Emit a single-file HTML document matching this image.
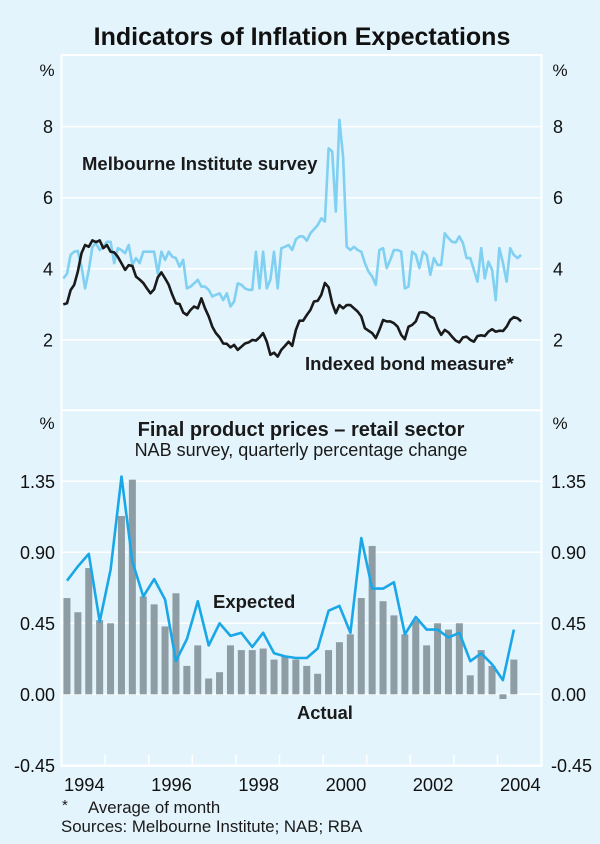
<!DOCTYPE html>
<html><head><meta charset="utf-8"><style>
html,body{margin:0;padding:0;background:#e3f4fc;}
svg{display:block;font-family:"Liberation Sans",Arial,sans-serif;}
</style></head><body>
<svg id="chart" width="600" height="844" viewBox="0 0 600 844" xmlns="http://www.w3.org/2000/svg">
<rect x="0" y="0" width="600" height="844" fill="#e3f4fc"/>
<text x="302" y="45" text-anchor="middle" font-size="25" font-weight="bold" fill="#111">Indicators of Inflation Expectations</text>
<g id="grid"></g>
<g id="marks"></g>
<g id="labels" fill="#111"></g>
<text x="47" y="76" text-anchor="middle" font-size="17" fill="#111">%</text>
<text x="560" y="76" text-anchor="middle" font-size="17" fill="#111">%</text>
<text x="47" y="429" text-anchor="middle" font-size="17" fill="#111">%</text>
<text x="560" y="429" text-anchor="middle" font-size="17" fill="#111">%</text>
<text x="82" y="170" font-size="18.5" font-weight="bold" fill="#1a1a1a">Melbourne Institute survey</text>
<text x="305" y="370" font-size="18.5" font-weight="bold" fill="#1a1a1a">Indexed bond measure*</text>
<text x="301" y="436" text-anchor="middle" font-size="20" font-weight="bold" fill="#1a1a1a">Final product prices – retail sector</text>
<text x="301" y="456" text-anchor="middle" font-size="18" fill="#1a1a1a">NAB survey, quarterly percentage change</text>
<text x="213" y="608" font-size="18.5" font-weight="bold" fill="#1a1a1a">Expected</text>
<text x="297" y="719" font-size="18.3" font-weight="bold" fill="#1a1a1a">Actual</text>
<text x="62" y="810" font-size="15" fill="#1a1a1a">*</text>
<text x="88" y="813" font-size="16.8" fill="#1a1a1a">Average of month</text>
<text x="61" y="832" font-size="16.8" fill="#1a1a1a">Sources: Melbourne Institute; NAB; RBA</text>
</svg>
<script>
const yearLabels = ["1994","1996","1998","2000","2002","2004"];
const topTicks = [2,4,6,8];
const bottomTicks = [-0.45,0,0.45,0.90,1.35];
const bottomTickLabels = ["-0.45","0.00","0.45","0.90","1.35"];
const melbourneSurvey = [3.73,3.86,4.39,4.48,4.5,4.06,3.45,3.97,4.62,4.72,4.53,4.62,4.76,4.76,4.16,4.58,4.53,4.44,4.67,4.11,4.3,4.16,4.48,4.48,4.48,4.48,3.87,4.48,4.25,4.48,4.34,4.3,4.06,4.25,3.45,3.5,3.59,3.69,3.5,3.5,3.41,3.22,3.27,3.31,3.12,3.31,2.94,3.08,3.59,3.55,3.45,3.41,3.41,4.48,3.45,4.48,3.45,3.69,4.48,3.45,4.58,4.62,4.67,4.53,4.83,4.91,4.91,4.79,5.0,5.11,5.23,5.42,5.33,7.39,7.3,5.61,8.19,7.15,4.62,4.53,4.62,4.53,4.48,4.16,3.92,3.78,3.55,4.53,4.58,4.02,4.25,4.53,4.53,4.48,3.45,3.5,4.48,4.39,4.02,4.48,4.39,3.83,4.3,4.11,4.11,5.0,4.86,4.76,4.74,4.91,4.72,4.3,4.3,3.97,3.64,4.58,3.73,4.2,3.97,3.12,4.58,4.16,3.64,4.58,4.39,4.3,4.39];
const indexedBond = [3.0,3.03,3.4,3.55,3.92,4.44,4.67,4.62,4.8,4.75,4.8,4.58,4.67,4.48,4.46,4.34,4.16,3.97,4.1,4.08,3.78,3.7,3.6,3.45,3.31,3.42,3.76,3.9,3.73,3.55,3.27,3.03,3.01,2.77,2.7,2.84,2.94,2.89,3.17,2.89,2.66,2.37,2.19,2.07,1.9,1.89,1.79,1.86,1.72,1.81,1.9,1.93,2.0,1.98,2.07,2.19,1.95,1.58,1.64,1.53,1.72,1.83,1.95,1.83,2.28,2.54,2.54,2.7,2.84,3.08,3.1,3.27,3.6,3.48,3.03,2.75,2.98,2.89,2.98,2.98,2.89,2.8,2.66,2.33,2.26,2.19,2.05,2.28,2.56,2.52,2.52,2.47,2.37,2.14,2.02,2.37,2.42,2.52,2.77,2.78,2.75,2.66,2.61,2.33,2.14,2.28,2.21,2.09,1.98,1.93,2.07,2.09,2.0,1.95,2.11,2.13,2.11,2.23,2.3,2.23,2.26,2.25,2.37,2.56,2.64,2.61,2.52];
const actualRetail = [0.61,0.52,0.80,0.47,0.45,1.13,1.36,0.62,0.57,0.43,0.64,0.18,0.31,0.10,0.14,0.31,0.28,0.28,0.29,0.22,0.24,0.22,0.18,0.13,0.28,0.33,0.38,0.61,0.94,0.59,0.50,0.38,0.47,0.31,0.45,0.41,0.45,0.12,0.28,0.18,-0.03,0.22];
const expectedRetail = [0.72,0.81,0.89,0.46,0.79,1.38,0.84,0.62,0.73,0.60,0.21,0.35,0.59,0.31,0.45,0.37,0.39,0.30,0.39,0.26,0.24,0.23,0.23,0.29,0.53,0.56,0.39,0.99,0.67,0.67,0.71,0.38,0.49,0.41,0.41,0.36,0.39,0.21,0.26,0.19,0.09,0.41];

const NS="http://www.w3.org/2000/svg";
const X0=61.5, YEARW=43.6;
function xMonth(m){return X0+(m+0.5)*YEARW/12;}
function xQuarter(q){return X0+(q+0.5)*YEARW/4;}
function yTop(v){return 411-v*35.55;}
function yBot(v){return 694.3-v*157.8;}
function mk(tag,attrs,parent){const e=document.createElementNS(NS,tag);for(const k in attrs)e.setAttribute(k,attrs[k]);parent.appendChild(e);return e;}
const grid=document.getElementById('grid'), marks=document.getElementById('marks'), labels=document.getElementById('labels');

let f=mk('rect',{x:61.5,y:55,width:480,height:711,fill:'none',stroke:'#fff','stroke-width':2},grid);


let sep=mk('line',{x1:61.5,x2:541.5,y1:yBot(1.8),y2:yBot(1.8),stroke:'#fff','stroke-width':2},grid);



topTicks.forEach(v=>{
  const g=mk('line',{x1:61.5,x2:541.5,y1:yTop(v),y2:yTop(v),stroke:'#fff','stroke-width':1.5},grid);
  
  
  const l=mk('text',{x:48,y:yTop(v)+6.5,'text-anchor':'middle','font-size':18},labels);l.textContent=v;
  
  
  const r=mk('text',{x:558,y:yTop(v)+6.5,'text-anchor':'middle','font-size':18},labels);r.textContent=v;
  
  
});
bottomTicks.forEach((v,i)=>{
  const g=mk('line',{x1:61.5,x2:541.5,y1:yBot(v),y2:yBot(v),stroke:'#fff','stroke-width':1.5},grid);
  
  
  const l=mk('text',{x:55,y:yBot(v)+6.5,'text-anchor':'end','font-size':18},labels);l.textContent=bottomTickLabels[i];
  
  
  const r=mk('text',{x:551,y:yBot(v)+6.5,'font-size':18},labels);r.textContent=bottomTickLabels[i];
  
  
});
for(let y=1;y<11;y++){
  const t=mk('line',{x1:X0+y*YEARW,x2:X0+y*YEARW,y1:755,y2:766,stroke:'#fff','stroke-width':1.5},grid);
  
  
}
yearLabels.forEach(s=>{
  const yr=parseInt(s)-1994;
  const t=mk('text',{x:X0+(yr+0.5)*YEARW+1,y:791,'text-anchor':'middle','font-size':18.3},labels);t.textContent=s;
  
  
});

actualRetail.forEach((v,i)=>{
  const y0=yBot(0), y1=yBot(v);
  const b=mk('rect',{x:xQuarter(i)-3.5,y:Math.min(y0,y1),width:7,height:Math.max(1.5,Math.abs(y1-y0)),fill:'#8e9ca4'},marks);
  
  
});
function line(vals,xf,yf,color,w,name){
  const p=mk('polyline',{points:vals.map((v,i)=>xf(i).toFixed(1)+','+yf(v).toFixed(1)).join(' '),fill:'none',stroke:color,'stroke-width':w,'stroke-linejoin':'round'},marks);
  
  
}
line(expectedRetail,xQuarter,yBot,'#1aa7e8',2.6,'expected-line');
line(melbourneSurvey,xMonth,yTop,'#80d0f2',2.6,'melbourne-survey-line');
line(indexedBond,xMonth,yTop,'#1a1a1a',2.6,'indexed-bond-line');
</script>
</body></html>
